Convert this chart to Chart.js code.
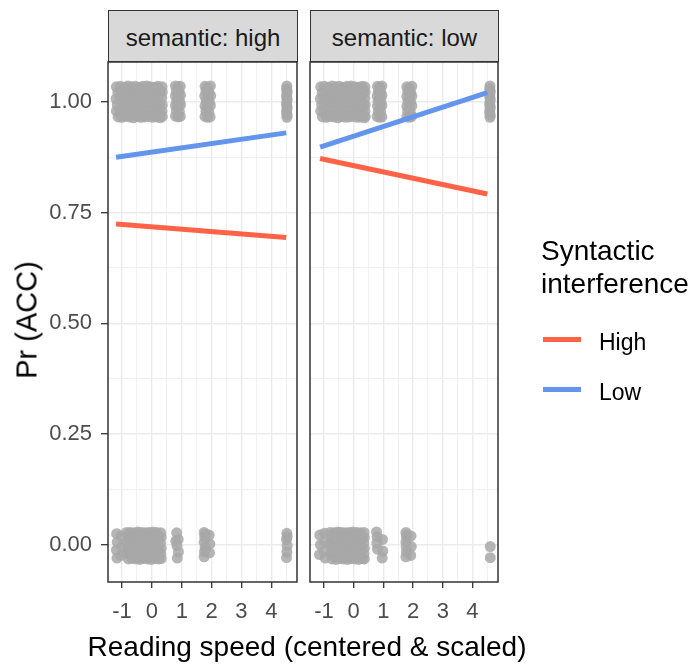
<!DOCTYPE html>
<html>
<head>
<meta charset="utf-8">
<script src="https://cdn.jsdelivr.net/npm/chart.js@4/dist/chart.umd.min.js"></script>
<style>
  body { margin: 0; background: #fff; }
  #fig { position: relative; width: 694px; height: 671px; overflow: hidden;
         font-family: "Liberation Sans", Arial, sans-serif; }
  #fig canvas { position: absolute; left: 0; top: 0; }
  .strip { position: absolute; top: 10px; height: 52px; box-sizing: border-box;
           border: 1.5px solid #333; background: #D9D9D9; color: #1A1A1A;
           font-size: 24px; line-height: 53px; text-align: center; white-space: nowrap; z-index: 2; }
  .ytitle { position: absolute; left: 27px; top: 320px; font-size: 29px; line-height: 29px;
            white-space: nowrap; transform: translate(-50%, -50%) rotate(-90deg); color: #000; }
  .xtitle { position: absolute; left: 0; width: 614px; top: 631px; font-size: 28px;
            line-height: 32px; text-align: center; white-space: nowrap; color: #000; }
  .legtitle { position: absolute; left: 541px; top: 234px; font-size: 28px; line-height: 33px; color: #000; }
  .key { position: absolute; left: 543px; width: 38px; height: 5px; }
  .keylab { position: absolute; left: 599px; font-size: 23px; line-height: 23px; color: #000; }
</style>
</head>
<body>
<div id="fig">
  <canvas id="panelHigh" width="694" height="671"></canvas>
  <canvas id="panelLow" width="694" height="671"></canvas>
  <div class="strip" style="left:108px;width:190px">semantic: high</div>
  <div class="strip" style="left:310px;width:189px">semantic: low</div>
  <div class="ytitle">Pr (ACC)</div>
  <div class="xtitle">Reading speed (centered &amp; scaled)</div>
  <div class="legtitle">Syntactic<br>interference</div>
  <div class="key" style="top:337px;background:#FF6347"></div>
  <div class="keylab" style="top:331px">High</div>
  <div class="key" style="top:387px;background:#6495ED"></div>
  <div class="keylab" style="top:381px">Low</div>
</div>
<script>
// Axis breaks
const xMajor = [-1, 0, 1, 2, 3, 4];
const xMinor = [-0.5, 0.5, 1.5, 2.5, 3.5, 4.5];
const yMajor = [0, 0.25, 0.5, 0.75, 1];
const yMinor = [0.125, 0.375, 0.625, 0.875];

// Fitted accuracy (logistic fit, shown at the ends of the observed speed range)
const fitXSemHigh = [-1.20, 4.50];
const fitSemHighSynHigh = [0.724, 0.694];
const fitSemHighSynLow = [0.875, 0.930];
const fitXSemLow = [-1.13, 4.50];
const fitSemLowSynHigh = [0.872, 0.792];
const fitSemLowSynLow = [0.898, 1.021];

// Trial-level responses (reading speed, accuracy with vertical jitter)
const semHighPoints = [
  // correct trials
  [-1.19,1.034],[-1.06,1.035],[-0.93,1.033],[-0.80,1.036],[-0.68,1.034],[-0.55,1.035],[-0.42,1.033],[-0.30,1.035],[-0.17,1.036],[-0.05,1.034],[0.08,1.033],[0.20,1.035],[0.34,1.034],
  [-1.14,1.021],[-1.00,1.020],[-0.87,1.022],[-0.74,1.021],[-0.61,1.019],[-0.49,1.022],[-0.36,1.020],[-0.23,1.021],[-0.11,1.023],[0.02,1.020],[0.14,1.021],[0.27,1.019],[0.35,1.022],
  [-1.20,1.007],[-1.07,1.008],[-0.95,1.006],[-0.82,1.007],[-0.70,1.009],[-0.57,1.006],[-0.44,1.008],[-0.31,1.007],[-0.19,1.005],[-0.06,1.008],[0.07,1.007],[0.19,1.006],[0.33,1.008],
  [-1.16,0.993],[-1.03,0.992],[-0.90,0.994],[-0.77,0.993],[-0.64,0.991],[-0.52,0.994],[-0.39,0.993],[-0.26,0.992],[-0.13,0.994],[0.00,0.993],[0.12,0.991],[0.25,0.994],[0.35,0.993],
  [-1.19,0.979],[-1.06,0.980],[-0.94,0.978],[-0.81,0.979],[-0.67,0.981],[-0.54,0.978],[-0.41,0.979],[-0.29,0.980],[-0.16,0.978],[-0.03,0.979],[0.09,0.981],[0.22,0.978],[0.34,0.979],
  [-1.13,0.966],[-1.01,0.965],[-0.88,0.967],[-0.75,0.966],[-0.62,0.964],[-0.50,0.967],[-0.37,0.965],[-0.24,0.966],[-0.12,0.967],[0.01,0.965],[0.15,0.966],[0.28,0.964],[0.35,0.967],
  [0.79,1.036],[0.87,1.034],[0.95,1.035],[0.82,1.025],[0.91,1.023],[0.79,1.014],[0.88,1.012],[0.96,1.015],[0.83,1.003],
  [0.93,1.001],[0.79,0.992],[0.87,0.990],[0.96,0.993],[0.82,0.980],[0.92,0.978],[0.79,0.968],[0.88,0.966],[0.95,0.967],
  [1.78,1.035],[1.86,1.033],[1.96,1.036],[1.81,1.024],[1.91,1.022],[1.77,1.013],[1.87,1.011],[1.97,1.014],[1.82,1.002],
  [1.92,1.000],[1.78,0.991],[1.86,0.989],[1.96,0.992],[1.81,0.979],[1.91,0.977],[1.78,0.967],[1.87,0.965],[1.95,0.966],
  [4.52,1.036],[4.51,1.030],[4.53,1.024],[4.52,1.018],[4.51,1.012],[4.53,1.006],[4.52,1.000],
  [4.51,0.994],[4.53,0.988],[4.52,0.982],[4.51,0.976],[4.53,0.970],[4.52,0.965],
  // incorrect trials
  [-0.85,0.028],[-0.73,0.028],[-0.60,0.027],[-0.47,0.029],[-0.35,0.028],[-0.22,0.027],[-0.10,0.028],[0.03,0.029],[0.16,0.028],[0.30,0.027],
  [-0.80,0.016],[-0.67,0.015],[-0.54,0.017],[-0.41,0.016],[-0.29,0.015],[-0.16,0.017],[-0.04,0.016],[0.09,0.015],[0.22,0.016],[0.31,0.017],
  [-0.86,0.004],[-0.74,0.005],[-0.61,0.003],[-0.48,0.004],[-0.36,0.005],[-0.23,0.003],[-0.11,0.004],[0.02,0.005],[0.15,0.003],[0.29,0.004],
  [-0.81,-0.008],[-0.68,-0.007],[-0.55,-0.009],[-0.43,-0.008],[-0.30,-0.007],[-0.17,-0.009],[-0.05,-0.008],[0.08,-0.007],[0.21,-0.009],[0.31,-0.008],
  [-0.85,-0.020],[-0.72,-0.021],[-0.59,-0.019],[-0.46,-0.020],[-0.34,-0.021],[-0.21,-0.019],[-0.09,-0.020],[0.04,-0.021],[0.17,-0.019],[0.30,-0.020],
  [-0.79,-0.032],[-0.66,-0.031],[-0.53,-0.032],[-0.40,-0.033],[-0.28,-0.031],[-0.15,-0.032],[-0.02,-0.033],[0.11,-0.031],[0.24,-0.032],[0.31,-0.031],
  [-1.18,0.025],[-1.16,0.006],[-1.19,-0.012],[-1.17,-0.030],[-1.03,0.020],[-1.01,-0.004],[-1.04,-0.024],
  [0.83,0.027],[0.88,0.012],[0.84,-0.002],[0.89,-0.016],[0.85,-0.030],[0.80,0.008],
  [1.75,0.028],[1.77,0.017],[1.75,0.006],[1.78,-0.005],[1.76,-0.016],[1.75,-0.027],[1.79,0.024],[1.80,-0.010],
  [1.92,0.022],[1.94,0.002],[1.93,-0.018],
  [4.52,0.026],[4.51,0.012],[4.53,-0.002],[4.52,-0.016],[4.51,-0.029],[4.53,0.019]
];

const semLowPoints = [
  // correct trials
  [-1.11,1.034],[-0.98,1.035],[-0.85,1.033],[-0.72,1.036],[-0.60,1.034],[-0.47,1.035],[-0.34,1.033],[-0.22,1.035],[-0.09,1.036],[0.04,1.034],[0.16,1.033],[0.28,1.035],[0.38,1.034],
  [-1.06,1.021],[-0.93,1.020],[-0.80,1.022],[-0.67,1.021],[-0.54,1.019],[-0.42,1.022],[-0.29,1.020],[-0.16,1.021],[-0.03,1.023],[0.10,1.020],[0.22,1.021],[0.34,1.019],[0.39,1.022],
  [-1.12,1.007],[-0.99,1.008],[-0.87,1.006],[-0.74,1.007],[-0.61,1.009],[-0.48,1.006],[-0.36,1.008],[-0.23,1.007],[-0.10,1.005],[0.03,1.008],[0.15,1.007],[0.27,1.006],[0.38,1.008],
  [-1.08,0.993],[-0.95,0.992],[-0.82,0.994],[-0.69,0.993],[-0.56,0.991],[-0.44,0.994],[-0.31,0.993],[-0.18,0.992],[-0.05,0.994],[0.08,0.993],[0.20,0.991],[0.33,0.994],[0.39,0.993],
  [-1.11,0.979],[-0.98,0.980],[-0.86,0.978],[-0.73,0.979],[-0.60,0.981],[-0.47,0.978],[-0.34,0.979],[-0.21,0.980],[-0.08,0.978],[0.05,0.979],[0.17,0.981],[0.29,0.978],[0.38,0.979],
  [-1.05,0.966],[-0.92,0.965],[-0.79,0.967],[-0.66,0.966],[-0.53,0.964],[-0.40,0.967],[-0.27,0.965],[-0.14,0.966],[-0.01,0.967],[0.12,0.965],[0.24,0.966],[0.36,0.964],[0.39,0.967],
  [0.80,1.035],[0.88,1.033],[0.95,1.036],[0.83,1.024],[0.92,1.022],[0.79,1.013],[0.87,1.011],[0.95,1.014],[0.82,1.002],
  [0.92,1.000],[0.80,0.991],[0.88,0.989],[0.95,0.992],[0.83,0.979],[0.91,0.977],[0.79,0.967],[0.87,0.965],[0.95,0.966],
  [1.79,1.034],[1.87,1.032],[1.96,1.035],[1.82,1.023],[1.92,1.021],[1.79,1.012],[1.88,1.010],[1.96,1.013],[1.83,1.001],
  [1.92,0.999],[1.79,0.990],[1.87,0.988],[1.96,0.991],[1.82,0.978],[1.91,0.976],[1.79,0.966],[1.88,0.965],[1.95,0.967],
  [4.59,1.036],[4.58,1.030],[4.60,1.024],[4.59,1.018],[4.58,1.012],[4.60,1.006],[4.59,1.000],
  [4.58,0.994],[4.60,0.988],[4.59,0.982],[4.58,0.976],[4.60,0.970],[4.59,0.965],
  // incorrect trials
  [-0.79,0.028],[-0.66,0.027],[-0.53,0.029],[-0.41,0.028],[-0.28,0.027],[-0.15,0.028],[-0.03,0.029],[0.10,0.028],[0.23,0.027],[0.35,0.028],
  [-0.74,0.016],[-0.61,0.017],[-0.48,0.015],[-0.35,0.016],[-0.22,0.017],[-0.10,0.015],[0.03,0.016],[0.16,0.017],[0.29,0.015],[0.36,0.016],
  [-0.80,0.004],[-0.67,0.003],[-0.54,0.005],[-0.42,0.004],[-0.29,0.003],[-0.16,0.005],[-0.04,0.004],[0.09,0.003],[0.22,0.005],[0.34,0.004],
  [-0.75,-0.008],[-0.62,-0.009],[-0.49,-0.007],[-0.36,-0.008],[-0.23,-0.009],[-0.11,-0.007],[0.02,-0.008],[0.15,-0.009],[0.28,-0.007],[0.36,-0.008],
  [-0.79,-0.020],[-0.66,-0.019],[-0.53,-0.021],[-0.40,-0.020],[-0.27,-0.019],[-0.15,-0.021],[-0.02,-0.020],[0.11,-0.019],[0.24,-0.021],[0.35,-0.020],
  [-0.73,-0.032],[-0.60,-0.033],[-0.47,-0.031],[-0.34,-0.032],[-0.21,-0.033],[-0.09,-0.031],[0.04,-0.032],[0.17,-0.033],[0.30,-0.031],[0.36,-0.032],
  [-1.14,0.022],[-1.12,0.000],[-1.15,-0.022],[-0.98,0.026],[-0.97,0.006],[-0.99,-0.014],[-0.96,-0.030],
  [0.77,0.029],[0.97,0.012],[0.78,0.004],[0.80,-0.010],[0.98,-0.014],[0.96,-0.030],[0.79,0.018],
  [1.76,0.028],[1.78,0.017],[1.76,0.006],[1.77,-0.005],[1.78,-0.016],[1.76,-0.027],[1.79,0.022],
  [1.93,0.020],[1.94,-0.004],[1.92,-0.024],
  [4.60,-0.004],[4.60,-0.029]
];

const FONT = '"Liberation Sans", Arial, sans-serif';
const RED = '#FF6347';
const BLUE = '#6495ED';

// Dark frame around each facet panel
const panelFrame = {
  id: 'panelFrame',
  afterDatasetsDraw(chart) {
    const { ctx, chartArea: a } = chart;
    ctx.save();
    ctx.strokeStyle = '#333333';
    ctx.lineWidth = 1.5;
    ctx.strokeRect(a.left, a.top, a.right - a.left, a.bottom - a.top);
    ctx.restore();
  }
};

const isMajorX = v => xMajor.includes(v);
const isMajorY = v => yMajor.includes(v);

function drawPanel(canvasId, points, fitX, fitSynHigh, fitSynLow, withYAxis, padLeft, padRight) {
  new Chart(document.getElementById(canvasId), {
    type: 'scatter',
    data: {
      datasets: [
        { label: 'High', data: fitX.map((x, i) => ({ x, y: fitSynHigh[i] })), showLine: true,
          borderColor: RED, borderWidth: 5, pointRadius: 0, order: 0 },
        { label: 'Low', data: fitX.map((x, i) => ({ x, y: fitSynLow[i] })), showLine: true,
          borderColor: BLUE, borderWidth: 5, pointRadius: 0, order: 0 },
        { label: 'trials', data: points.map(([x, y]) => ({ x, y })), pointRadius: 5.5,
          backgroundColor: 'rgba(168,168,168,0.85)', borderWidth: 0, order: 1 }
      ]
    },
    options: {
      responsive: false,
      animation: false,
      devicePixelRatio: 1,
      layout: { padding: { left: padLeft, right: padRight, top: 62, bottom: 0 } },
      plugins: { legend: { display: false }, tooltip: { enabled: false } },
      scales: {
        x: {
          type: 'linear', min: -1.47, max: 4.86,
          afterBuildTicks: s => { s.ticks = [...xMajor, ...xMinor].sort((a, b) => a - b).map(v => ({ value: v })); },
          afterFit: s => { s.height = 89; },
          border: { display: false },
          grid: {
            color: c => isMajorX(c.tick.value) ? '#EBEBEB' : '#F1F1F1',
            lineWidth: c => isMajorX(c.tick.value) ? 1.4 : 1,
            tickLength: 6,
            tickColor: c => isMajorX(c.tick.value) ? '#333333' : 'rgba(0,0,0,0)',
            tickWidth: 1.3
          },
          ticks: {
            autoSkip: false, maxRotation: 0, padding: 11, color: '#4D4D4D',
            font: { family: FONT, size: 22 },
            callback: v => isMajorX(v) ? String(v) : ''
          }
        },
        y: {
          type: 'linear', min: -0.084, max: 1.09,
          afterBuildTicks: s => { s.ticks = [...yMajor, ...yMinor].sort((a, b) => a - b).map(v => ({ value: v })); },
          afterFit: s => { s.width = withYAxis ? 108 : 0; },
          border: { display: false },
          grid: {
            color: c => isMajorY(c.tick.value) ? '#EBEBEB' : '#F1F1F1',
            lineWidth: c => isMajorY(c.tick.value) ? 1.4 : 1,
            drawTicks: withYAxis,
            tickLength: 7,
            tickColor: c => isMajorY(c.tick.value) ? '#333333' : 'rgba(0,0,0,0)',
            tickWidth: 1.3
          },
          ticks: {
            display: withYAxis, autoSkip: false, padding: 9, color: '#4D4D4D',
            font: { family: FONT, size: 22 },
            callback: v => isMajorY(v) ? v.toFixed(2) : ''
          }
        }
      }
    },
    plugins: [panelFrame]
  });
}

drawPanel('panelHigh', semHighPoints, fitXSemHigh, fitSemHighSynHigh, fitSemHighSynLow, true, 0, 694 - 297);
drawPanel('panelLow', semLowPoints, fitXSemLow, fitSemLowSynHigh, fitSemLowSynLow, false, 310, 694 - 498);
</script>
</body>
</html>
